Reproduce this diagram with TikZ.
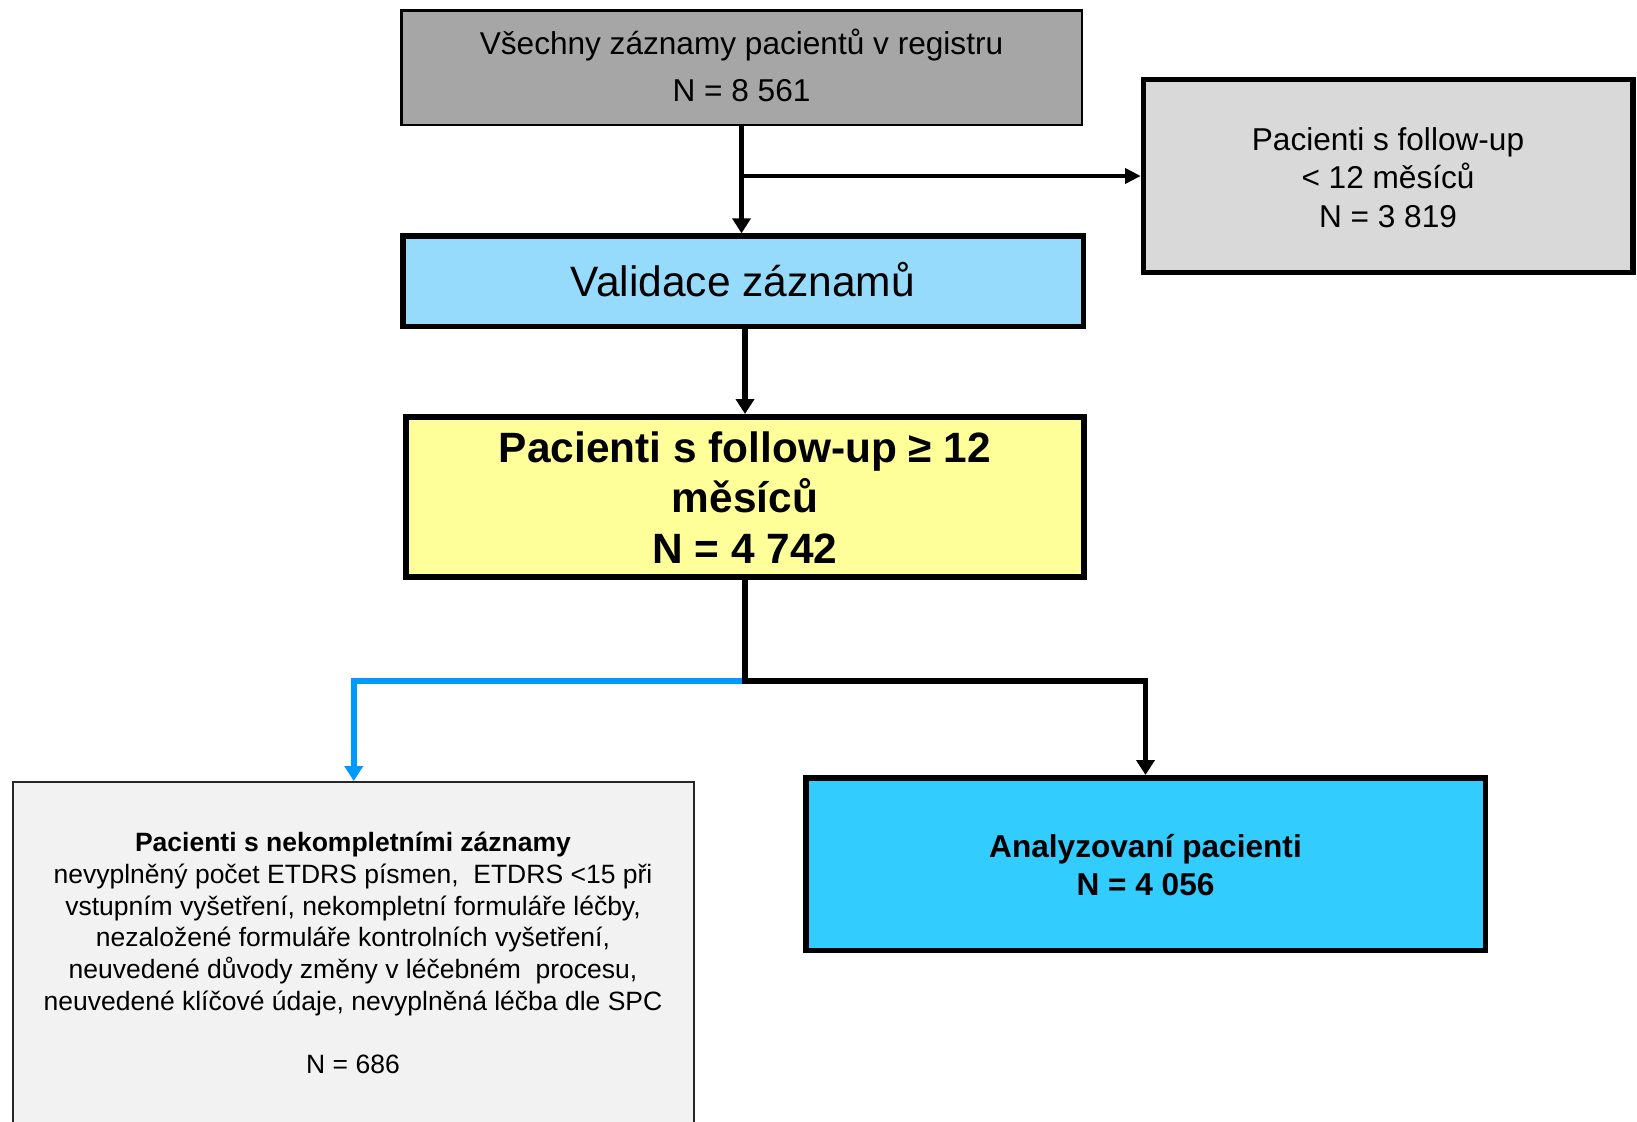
\documentclass[tikz,border=0pt]{standalone}
\usepackage{fontspec}
\setmainfont{Liberation Sans}
\usetikzlibrary{arrows.meta}
\definecolor{topgray}{HTML}{A6A6A6}
\definecolor{valblue}{HTML}{97DBFC}
\definecolor{rgray}{HTML}{D9D9D9}
\definecolor{yel}{HTML}{FFFF99}
\definecolor{anablue}{HTML}{33CCFF}
\definecolor{incgray}{HTML}{F2F2F2}
\definecolor{arrblue}{HTML}{0099FF}
\newcommand\myfs[2]{\fontsize{#1}{#2}\selectfont}
\begin{document}
\begin{tikzpicture}[x=0.5pt,y=-0.5pt,
  box/.style={draw=black, rectangle, inner sep=0pt},
  txt/.style={inner sep=0pt, align=center},
  conn/.style={draw=black, line width=2.75pt, -{Triangle[width=9pt,length=7.5pt]}},
  thinconn/.style={draw=black, line width=1.75pt, -{Triangle[width=7.5pt,length=7.8pt]}},
  blueconn/.style={draw=arrblue, line width=2.75pt, -{Triangle[width=9pt,length=7.5pt]}}]
\useasboundingbox (0,0) rectangle (1637,1121);
\fill[white] (0,0) rectangle (1637,1121);

% boxes
\node[box, fill=topgray, line width=1.25pt, minimum width=340.25pt, minimum height=57.25pt] (box1) at (741.5,67.5) {};
\node[box, fill=valblue, line width=2.75pt, minimum width=340.25pt, minimum height=45.1pt] (val) at (743,281.15) {};
\node[box, fill=rgray, line width=2.65pt, minimum width=244.85pt, minimum height=96.35pt] (rbox) at (1388.2,176) {};
\node[box, fill=yel, line width=3pt, minimum width=339pt, minimum height=80pt] (yelbox) at (745,497) {};
\node[box, fill=anablue, line width=2.75pt, minimum width=339.75pt, minimum height=86.25pt] (ana) at (1145.5,864) {};
\begin{scope}
\clip (0,0) rectangle (1637,1121);
\node[box, draw=black!85, fill=incgray, line width=1pt, minimum width=340.5pt, minimum height=184pt] (inc) at (353.75,966) {};
\end{scope}

% texts
\node[txt, font=\myfs{15.8pt}{23.35pt}] (t1) at (741.5,69) {\strut Všechny záznamy pacientů v registru\\\strut N = 8 561};
\node[txt, font=\myfs{21.25pt}{24.9pt}] (tv) at (743,287) {\strut Validace záznamů};
\node[txt, font=\myfs{15.8pt}{19.25pt}] (tr) at (1388,180.8) {\strut Pacienti s follow-up\\\strut < 12 měsíců\\\strut N = 3 819};
\node[txt, font=\myfs{21.2pt}{25.25pt}\bfseries] (ty) at (745,502.4) {\strut Pacienti s follow-up ≥ 12\\\strut měsíců\\\strut N = 4 742};
\node[txt, font=\myfs{15.8pt}{19pt}\bfseries] (ta) at (1145.5,868.4) {\strut Analyzovaní pacienti\\\strut N = 4 056};
\node[txt, font=\myfs{13.25pt}{15.85pt}] (tl) at (353,956.3) {\strut\textbf{Pacienti s nekompletními záznamy}\\
\strut nevyplněný počet ETDRS písmen,\ \ ETDRS <15 při\\
\strut vstupním vyšetření, nekompletní formuláře léčby,\\
\strut nezaložené formuláře kontrolních vyšetření,\\
\strut neuvedené důvody změny v léčebném\ \ procesu,\\
\strut neuvedené klíčové údaje, nevyplněná léčba dle SPC\\
\strut\\
\strut N = 686};

% connectors
\draw[conn] (box1.south) -- (box1.south |- val.north);
\coordinate (br) at (box1.south |- rbox.west);
\draw[thinconn] (br) -- (rbox.west);
\draw[conn] (yelbox.north |- val.south) -- (yelbox.north);
\coordinate (split) at (yelbox.south |- 0,681);
\draw[blueconn] (split) -| (inc.north);
\draw[conn] (yelbox.south) -- (split) -| (ana.north);
\end{tikzpicture}
\end{document}
